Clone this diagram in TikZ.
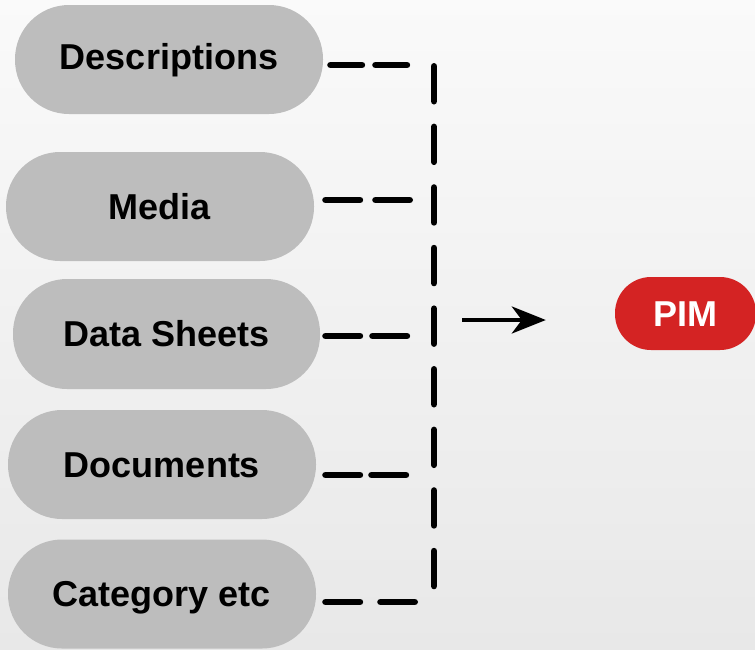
\documentclass[tikz,border=0pt]{standalone}
\usepackage{fontspec}
\setmainfont{Liberation Sans}
\usetikzlibrary{arrows.meta}
\definecolor{pillgray}{HTML}{BDBDBD}
\definecolor{pimred}{HTML}{D42323}
\begin{document}
\begin{tikzpicture}[x=1pt,y=-1pt,
  pill/.style={fill=pillgray, rounded corners=54pt, minimum width=308pt, minimum height=109pt,
    inner sep=0pt, text height=25.5pt, text depth=0pt, font=\fontsize{36}{40}\selectfont\bfseries},
  hdash/.style={line width=6.5pt, line cap=round},
  vdash/.style={line width=6.5pt, line cap=round, dash pattern=on 35pt off 25.6pt}]
\shade[top color=black!2, bottom color=black!9] (0,0) rectangle (755,649);
\useasboundingbox (0,0) rectangle (755,649);
\node[pill, text depth=6pt] (d1) at (169,59.5) {Descriptions};
\node[pill] (d2) at (160,206.5) {Media};
\node[pill, minimum width=307pt, minimum height=110pt] (d3) at (166.5,334) {Data Sheets};
\node[pill] (d4) at (162,464.5) {Documents};
\node[pill] (d5) at (162,594) {Category etc};
\node[fill=pimred, rounded corners=36pt, minimum width=141pt, minimum height=73pt, inner sep=0pt,
  text height=25.5pt, text depth=0pt, text=white, font=\fontsize{36}{40}\selectfont\bfseries] (pim) at (685.5,313.5) {PIM};
% junction coordinates
\coordinate (j1) at (409.75,65);
\coordinate (j2) at (409.75,200);
\coordinate (j3) at (408.75,336);
\coordinate (j4) at (408.75,475);
\coordinate (j5) at (414.75,602);
\coordinate (vt) at (434,66.25);
\coordinate (vb) at (434,586.25);
\draw[hdash, dash pattern=on 31.5pt off 13.5pt] ([xshift=7.25pt]d1.east |- j1) -- (j1);
\draw[hdash, dash pattern=on 34.5pt off 15.5pt] ([xshift=11.25pt]d2.east |- j2) -- (j2);
\draw[hdash, dash pattern=on 34.5pt off 12.5pt] ([xshift=5.25pt]d3.east |- j3) -- (j3);
\draw[hdash, dash pattern=on 34.5pt off 11.5pt] ([xshift=9.25pt]d4.east |- j4) -- (j4);
\draw[hdash, dash pattern=on 34.5pt off 20.5pt] ([xshift=9.25pt]d5.east |- j5) -- (j5);
\draw[vdash] (vt) -- (vb);
\coordinate (as) at (462,320);
\draw[line width=4pt, -{Stealth[length=34pt,width=27pt,inset=10pt]}] (as) -- ([xshift=-69pt]pim.west |- as);
\end{tikzpicture}
\end{document}
